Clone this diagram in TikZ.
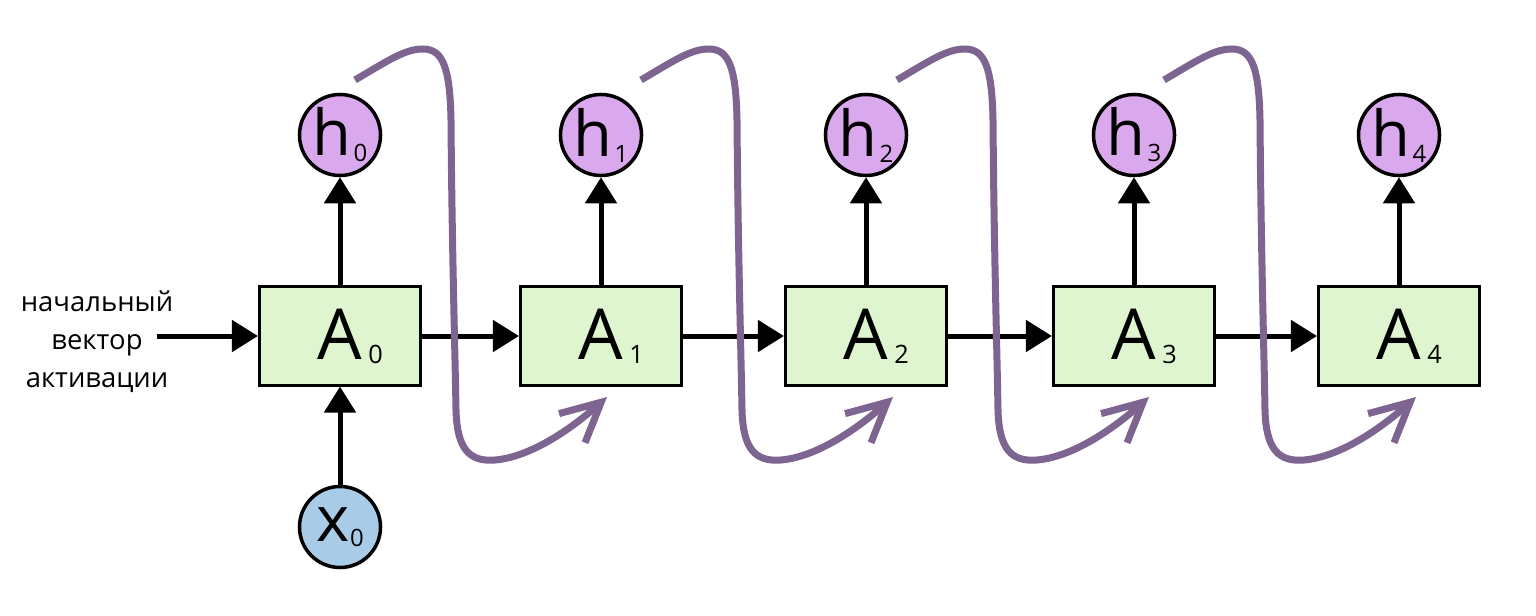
\documentclass[tikz,border=0pt]{standalone}
\usepackage{fontspec}
\setmainfont{Open Sans}
\usetikzlibrary{arrows.meta}
\definecolor{vertclair}{RGB}{222,245,207}
\definecolor{mauve}{RGB}{218,168,236}
\definecolor{bleuclair}{RGB}{168,204,232}
\definecolor{boucleviolet}{RGB}{125,100,145}

\begin{document}
\begin{tikzpicture}[x=0.01cm, y=-0.01cm,
    cellule/.style={draw, fill=vertclair, line width=0.03cm, minimum width=1.61cm, minimum height=0.98cm, inner sep=0pt, font=\fontsize{20}{24}\selectfont},
    sortie/.style={circle, draw, fill=mauve, line width=0.035cm, minimum size=0.81cm, inner sep=0pt, font=\fontsize{18}{20}\selectfont},
    entree/.style={sortie, fill=bleuclair},
    fleche/.style={line width=0.05cm, -{Triangle[length=0.26cm, width=0.31cm]}},
    boucle/.style={draw=boucleviolet, line width=0.07cm, -{Straight Barb[length=0.39cm, width=0.39cm]}}]
    \useasboundingbox (0,0) rectangle (1536,615);
    % Cellules et sorties
    \foreach \i/\x in {0/340, 1/601, 2/866, 3/1134, 4/1399} {
      \node[cellule] (A\i) at (\x,336) {A\rlap{\kern0.06cm\raisebox{-0.04cm}{\fontsize{7.2}{8}\selectfont\i}}};
      \node[sortie] (h\i) at (\x,135) {h\kern0.02cm\raisebox{-0.06cm}{\fontsize{6.8}{7}\selectfont\i}};
      \draw[fleche] (A\i) -- (h\i);
    }
    % Entree
    \node[entree] (x0) at (340,527) {x\kern0.01cm\raisebox{-0.05cm}{\fontsize{6.8}{7}\selectfont 0}};
    \draw[fleche] (x0) -- (A0);
    \node[align=center, font=\fontsize{7.8}{10.8}\selectfont] (texte) at (97,342) {начальный\\вектор\\активации};
    \coordinate (depart) at (157,336);
    \draw[fleche] (depart) -- (A0);
    % Fleches horizontales
    \foreach \i in {0,...,3} {
      \pgfmathtruncatemacro{\j}{\i+1}
      \draw[fleche] (A\i) -- (A\j);
    }
    % Boucles
    \foreach \v in {451, 737, 993, 1260}
      \draw[boucle, shift={(\v,0)}] (-96,80) .. controls (-62,60) and (-46,49) .. (-28,49)
        .. controls (-8,49) and (-1,68) .. (0,120)
        .. controls (1,250) and (4,350) .. (5,410)
        .. controls (6,450) and (19,462) .. (44,460)
        .. controls (79,457) and (119,430) .. (156,397);
  \end{tikzpicture}
\end{document}
